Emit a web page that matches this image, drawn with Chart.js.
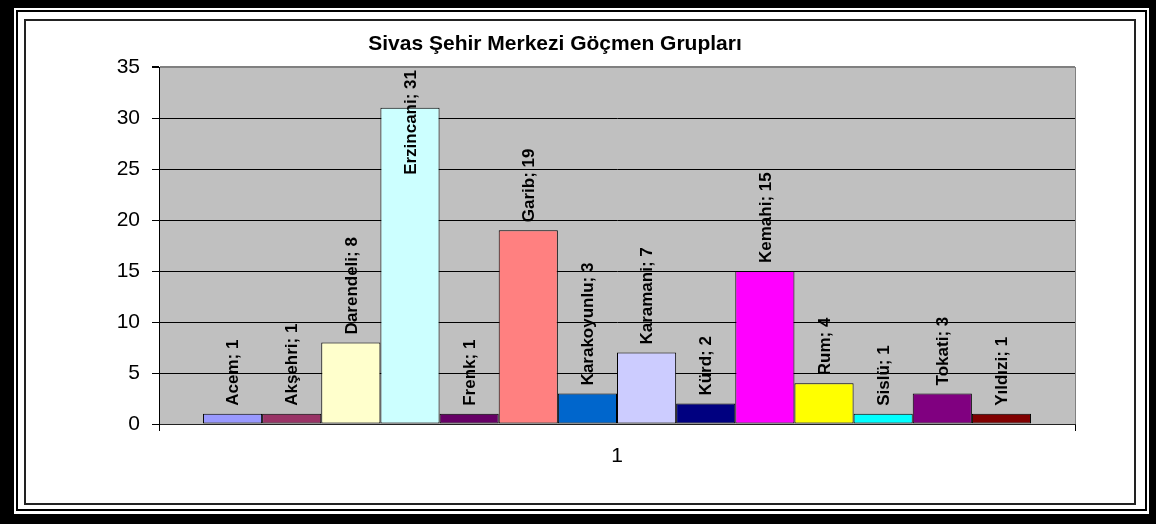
<!DOCTYPE html>
<html>
<head>
<meta charset="utf-8">
<script src="https://cdn.jsdelivr.net/npm/chart.js@4"></script>
<style>
  html, body { margin: 0; padding: 0; }
  body { width: 1156px; height: 524px; background: #000; position: relative; overflow: hidden; font-family: "Liberation Sans", Arial, sans-serif; }
  .white { position: absolute; left: 14px; top: 8px; width: 1135px; height: 506px; background: #fff; }
  .line { position: absolute; left: 16px; top: 10px; width: 1131px; height: 501px; border: 2px solid #000; box-sizing: border-box; }
  .inner { position: absolute; left: 24px; top: 19px; width: 1112px; height: 486px; border: 2px solid #222; box-sizing: border-box; }
  #chart { position: absolute; left: 26px; top: 21px; }
</style>
</head>
<body>
<div class="white"></div>
<div class="line"></div>
<div class="inner"></div>
<canvas id="chart" width="1108" height="482"></canvas>
<script>
(function () {
    'use strict';

    const title = "Sivas Şehir Merkezi Göçmen Grupları";
    const categories = ["1"];
    const groups = ["Acem", "Akşehri", "Darendeli", "Erzincani", "Frenk", "Garib", "Karakoyunlu",
                    "Karamani", "Kürd", "Kemahi", "Rum", "Sislü", "Tokati", "Yıldızi"];
    const counts = [1, 1, 8, 31, 1, 19, 3, 7, 2, 15, 4, 1, 3, 1];
    const colors = ["#9999FF", "#993366", "#FFFFCC", "#CCFFFF", "#660066", "#FF8080", "#0066CC",
                    "#CCCCFF", "#000080", "#FF00FF", "#FFFF00", "#00FFFF", "#800080", "#800000"];
    const yTicks = [0, 5, 10, 15, 20, 25, 30, 35];

    const FONT = "'Liberation Sans', Arial, sans-serif";

    // gray plot area like old Excel charts
    const plotBg = {
        id: "plotBg",
        beforeDraw(chart) {
            const { ctx, chartArea: a } = chart;
            ctx.save();
            ctx.fillStyle = "#C0C0C0";
            ctx.fillRect(a.left, a.top, a.right - a.left, a.bottom - a.top);
            ctx.restore();
        }
    };

    // title drawn at fixed spot (centered like the original, not on the plot)
    const titlePlugin = {
        id: "fixedTitle",
        afterDraw(chart) {
            const ctx = chart.ctx;
            ctx.save();
            ctx.font = "bold 21px " + FONT;
            ctx.fillStyle = "#000";
            ctx.textAlign = "center";
            ctx.textBaseline = "alphabetic";
            ctx.fillText(title, 529, 29);
            ctx.restore();
        }
    };

    // vertical "Name; value" labels above each bar
    const barLabels = {
        id: "barLabels",
        afterDatasetsDraw(chart) {
            const { ctx, chartArea: a } = chart;
            ctx.save();
            ctx.font = "bold 17px " + FONT;
            ctx.fillStyle = "#000";
            ctx.textAlign = "left";
            ctx.textBaseline = "middle";
            chart.data.datasets.forEach((ds, i) => {
                const bar = chart.getDatasetMeta(i).data[0];
                if (!bar) return;
                const txt = ds.label + "; " + ds.data[0];
                const w = ctx.measureText(txt).width;
                let start = bar.y - 8;
                if (start - w < a.top + 3) start = a.top + 3 + w;
                ctx.save();
                ctx.translate(bar.x + 1, start);
                ctx.rotate(-Math.PI / 2);
                ctx.fillText(txt, 0, 0);
                ctx.restore();
            });
            ctx.restore();
        }
    };

    const datasets = groups.map((g, i) => ({
        label: g,
        data: [counts[i]],
        backgroundColor: colors[i],
        borderColor: "#000",
        borderWidth: 1,
        borderSkipped: false
    }));

    new Chart(document.getElementById("chart"), {
        type: "bar",
        data: { labels: categories, datasets },
        options: {
            responsive: false,
            animation: false,
            events: [],
            categoryPercentage: 0.904,
            barPercentage: 1,
            layout: { padding: { left: 0, top: 46, right: 59, bottom: 0 } },
            plugins: {
                legend: { display: false },
                title: { display: false },
                tooltip: { enabled: false }
            },
            scales: {
                x: {
                    offset: true,
                    grid: {
                        offset: true,
                        color: c => c.index === 0 ? "#000" : "#808080",
                        tickColor: "#000",
                        tickLength: 7,
                        lineWidth: 1
                    },
                    border: { color: "#222", width: 1 },
                    ticks: { color: "#000", padding: 13, font: { family: FONT, size: 21 } },
                    afterFit(s) { s.height = 79; }
                },
                y: {
                    min: 0,
                    max: 35,
                    afterBuildTicks(s) { s.ticks = yTicks.map(v => ({ value: v })); },
                    grid: {
                        color: c => (c.tick && c.tick.value === 35) ? "#808080" : "#000",
                        tickColor: "#000",
                        tickLength: 7,
                        lineWidth: c => (c.tick && c.tick.value === 35) ? 2 : 1
                    },
                    border: { color: "#000", width: 1 },
                    ticks: { color: "#000", padding: 12, font: { family: FONT, size: 21 } },
                    afterFit(s) { s.width = 133; }
                }
            }
        },
        plugins: [plotBg, barLabels, titlePlugin]
    });
})();
</script>
</body>
</html>
